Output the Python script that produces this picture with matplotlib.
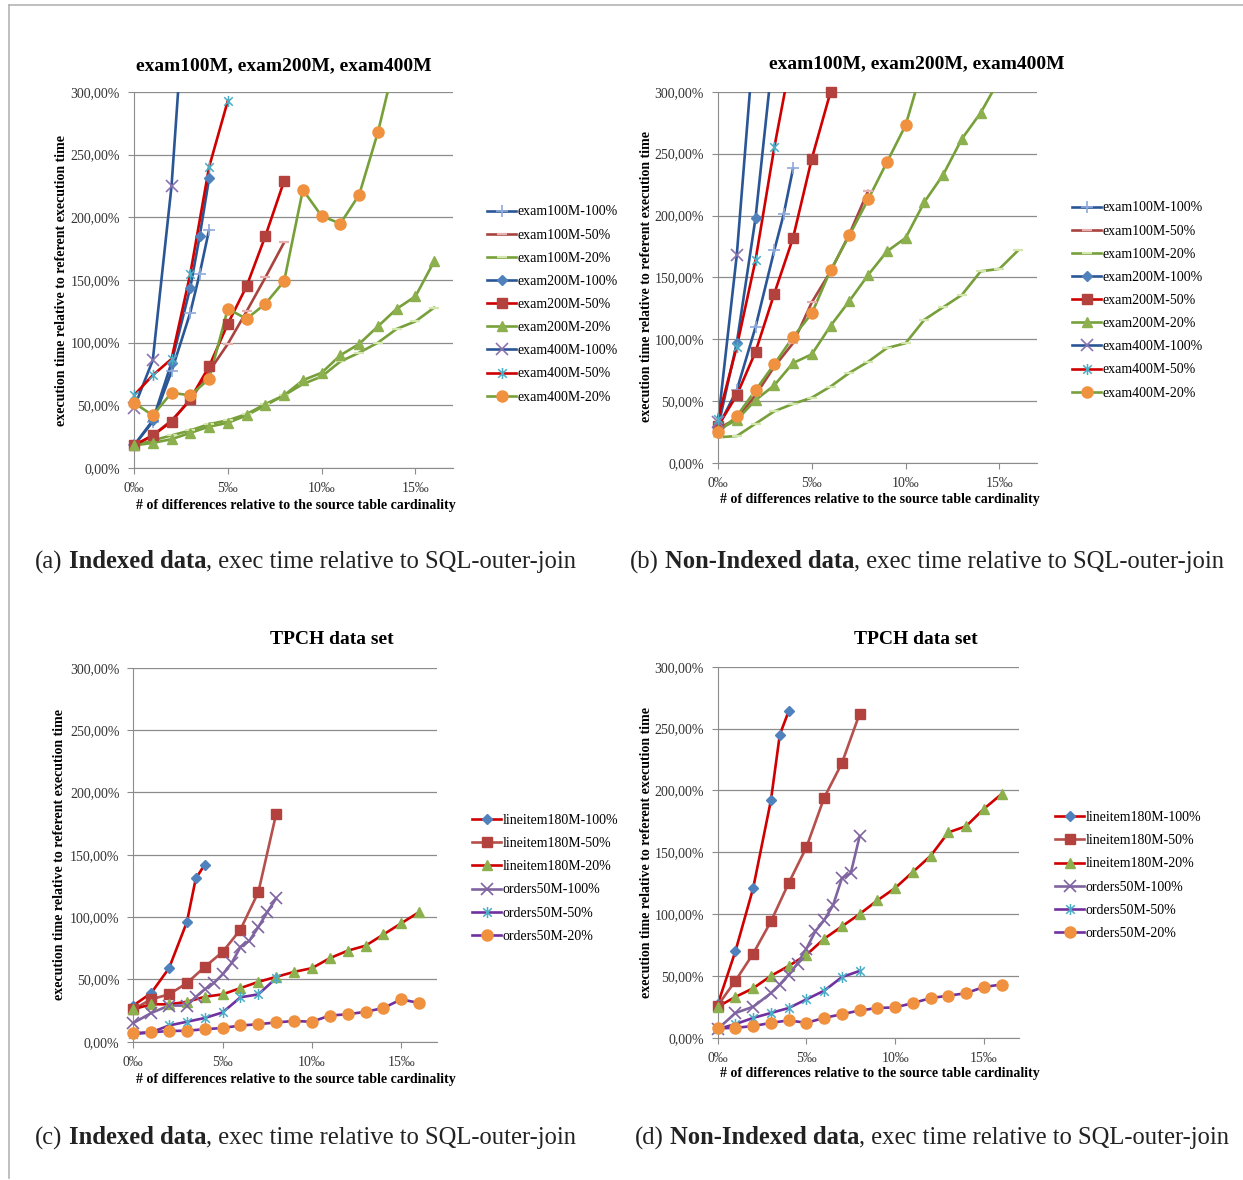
import numpy as np
import matplotlib
matplotlib.use('Agg')
import matplotlib.pyplot as plt
from matplotlib.path import Path
from matplotlib.lines import Line2D
from matplotlib.patches import Rectangle
from matplotlib.ticker import FuncFormatter, MultipleLocator, FixedLocator

plt.rcParams['font.family'] = ['Liberation Serif', 'DejaVu Serif']

W, H = 1243, 1180

# ---------------- data (x in per mille, y in % of referent time) ----------------
x_half = [0, 1, 2, 3, 3.5, 4]
x_8 = list(range(9))
x_16 = list(range(17))
x_o100 = [0, 1, 2, 3, 3.5, 4, 4.5, 5, 5.5, 6, 6.5, 7, 7.5, 8]

exam_labels = ['exam100M-100%', 'exam100M-50%', 'exam100M-20%',
               'exam200M-100%', 'exam200M-50%', 'exam200M-20%',
               'exam400M-100%', 'exam400M-50%', 'exam400M-20%']
tpch_labels = ['lineitem180M-100%', 'lineitem180M-50%', 'lineitem180M-20%',
               'orders50M-100%', 'orders50M-50%', 'orders50M-20%']

# (a) indexed, exam tables
a_e100_100 = [18, 37, 77, 124, 155, 190]
a_e100_50 = [18, 26, 38, 54, 77, 99, 125, 152, 180]
a_e100_20 = [18, 22, 26, 30, 35, 38, 43, 51, 58, 67, 73, 85, 92, 100, 111, 117, 128]
a_e200_100 = [18, 38, 84, 144, 185, 231]
a_e200_50 = [18, 26, 37, 55, 81, 115, 145, 185, 229]
a_e200_20 = [18, 20, 23, 28, 33, 36, 42, 50, 58, 70, 76, 90, 99, 113, 127, 137, 165]
a_e400_100 = [48, 86, 225, 440]
a_e400_50 = [58, 74, 87, 155, 240, 293]
a_e400_20 = [52, 42, 60, 58, 71, 127, 119, 131, 149, 222, 201, 195, 218, 268, 330]

# (b) non-indexed, exam tables
b_e100_100 = [29, 59, 110, 172, 201, 238]
b_e100_50 = [28, 36, 55, 78, 97, 130, 155, 185, 220]
b_e100_20 = [21, 22, 32, 42, 48, 53, 62, 73, 82, 93, 97, 116, 126, 136, 155, 157, 172]
b_e200_100 = [29, 97, 198, 340]
b_e200_50 = [30, 55, 90, 137, 182, 246, 300]
b_e200_20 = [27, 35, 51, 63, 81, 88, 111, 131, 152, 171, 182, 211, 233, 262, 283, 310]
b_e400_100 = [33, 168, 357]
b_e400_50 = [36, 94, 164, 255, 335]
b_e400_20 = [25, 38, 59, 80, 102, 121, 156, 184, 213, 243, 273, 325]

# (c) indexed, TPCH
c_l100 = [29, 39, 59, 96, 131, 142]
c_l50 = [26, 34, 38, 47, 60, 72, 90, 120, 183]
c_l20 = [26, 30, 30, 32, 36, 38, 43, 48, 52, 56, 59, 67, 73, 77, 86, 95, 104]
c_o100 = [15, 23, 29, 29, 36, 42, 47, 54, 63, 76, 81, 92, 104, 115]
c_o50 = [6, 7.5, 13, 16, 19, 23.5, 35.6, 38, 51]
c_o20 = [7, 7.5, 8.6, 8.8, 10, 11, 13, 14, 15.5, 16.6, 16, 21, 22, 24, 27, 34, 31]

# (d) non-indexed, TPCH
d_l100 = [27, 70, 121, 192, 245, 264]
d_l50 = [26, 46, 68, 94, 125, 154, 194, 222, 262]
d_l20 = [25, 33, 40, 50, 58, 67, 80, 90, 100, 111, 121, 134, 147, 166, 171, 185, 197]
d_o100 = [7, 20, 25, 36, 43, 51, 60, 72, 86, 95, 107, 129, 133, 163]
d_o50 = [7, 11, 16, 20, 24, 31, 38, 49, 54]
d_o20 = [7.5, 8, 9.4, 12, 14, 12, 16, 19, 22, 24, 24.5, 28, 32, 34, 36, 41, 43]

# ---------------- styles ----------------
star = Path([(-1, -1), (1, 1), (-1, 1), (1, -1), (0, -1.3), (0, 1.3)],
            [Path.MOVETO, Path.LINETO] * 3)

BLUE = '#2A5696'
RED = '#D00000'
BROWN = '#A8433F'
GREEN = '#77A03A'
LAV = '#7F64A0'
PURPLE = '#7030A0'

exam_styles = [
    dict(color=BLUE, marker='+', mec='#8EAADB', ms=8, mew=1.2),
    dict(color=BROWN, marker='_', mec='#E6B0AE', ms=7, mew=1.6),
    dict(color=GREEN, marker='_', mec='#D3E6AC', ms=7, mew=1.6),
    dict(color=BLUE, marker='D', mfc='#4F81BD', mec='#4F81BD', ms=5),
    dict(color=RED, marker='s', mfc='#B3413E', mec='#B3413E', ms=7.5),
    dict(color=GREEN, marker='^', mfc='#8DB04F', mec='#8DB04F', ms=7.5),
    dict(color=BLUE, marker='x', mec='#8C72B0', ms=8, mew=1.2),
    dict(color=RED, marker=star, mec='#4BACC6', ms=8, mew=1.1),
    dict(color=GREEN, marker='o', mfc='#F0913F', mec='#F0913F', ms=8),
]
tpch_styles = [
    dict(color=RED, marker='D', mfc='#4F81BD', mec='#4F81BD', ms=5),
    dict(color='#B5504D', marker='s', mfc='#B3413E', mec='#B3413E', ms=7.5),
    dict(color=RED, marker='^', mfc='#8DB04F', mec='#8DB04F', ms=7.5),
    dict(color=LAV, marker='x', mec='#8064A2', ms=8, mew=1.2),
    dict(color=PURPLE, marker=star, mec='#4BACC6', ms=8, mew=1.1),
    dict(color=PURPLE, marker='o', mfc='#F0913F', mec='#F0913F', ms=8),
]

panels = [
    dict(rect=(134, 92, 453, 468), title='exam100M, exam200M, exam400M',
         title_xy=(284, 66), ylab_xy=(62, 281), xlab_xy=(296, 505),
         leg_xy=(487, 304.5), labels=exam_labels, styles=exam_styles,
         xs=[x_half, x_8, x_16, x_half, x_8, x_16, x_8[:4], x_8[:6], x_16[:15]],
         ys=[a_e100_100, a_e100_50, a_e100_20, a_e200_100, a_e200_50, a_e200_20,
             a_e400_100, a_e400_50, a_e400_20]),
    dict(rect=(718, 91.7, 1037, 463.3), title='exam100M, exam200M, exam400M',
         title_xy=(917, 64), ylab_xy=(646, 277), xlab_xy=(880, 500),
         leg_xy=(1072, 300.5), labels=exam_labels, styles=exam_styles,
         xs=[x_half, x_8, x_16, x_8[:4], x_8[:7], x_16[:16], x_8[:3], x_8[:5], x_16[:12]],
         ys=[b_e100_100, b_e100_50, b_e100_20, b_e200_100, b_e200_50, b_e200_20,
             b_e400_100, b_e400_50, b_e400_20]),
    dict(rect=(133.3, 667.7, 437, 1041.7), title='TPCH data set',
         title_xy=(332, 639), ylab_xy=(60, 855), xlab_xy=(296, 1079),
         leg_xy=(472, 878.3), labels=tpch_labels, styles=tpch_styles,
         xs=[x_half, x_8, x_16, x_o100, x_8, x_16],
         ys=[c_l100, c_l50, c_l20, c_o100, c_o50, c_o20]),
    dict(rect=(717.7, 666.7, 1019.3, 1037.7), title='TPCH data set',
         title_xy=(916, 639), ylab_xy=(646, 852), xlab_xy=(880, 1074),
         leg_xy=(1055, 875.5), labels=tpch_labels, styles=tpch_styles,
         xs=[x_half, x_8, x_16, x_o100, x_8, x_16],
         ys=[d_l100, d_l50, d_l20, d_o100, d_o50, d_o20]),
]

captions = [
    (35, 562, '(a)', 'Indexed data', ', exec time relative to SQL-outer-join'),
    (630, 562, '(b)', 'Non-Indexed data', ', exec time relative to SQL-outer-join'),
    (35, 1138, '(c)', 'Indexed data', ', exec time relative to SQL-outer-join'),
    (635, 1138, '(d)', 'Non-Indexed data', ', exec time relative to SQL-outer-join'),
]

LW = 1.9
fig = plt.figure(figsize=(W / 100, H / 100), dpi=100)

# light frame around the figure
fig.add_artist(Line2D([9 / W, 9 / W], [1 - 1178 / H, 1 - 5 / H], color='#B4B4B4', lw=1.2))
fig.add_artist(Line2D([9 / W, 1], [1 - 5 / H, 1 - 5 / H], color='#B4B4B4', lw=1.2))

pct = FuncFormatter(lambda v, p: f'{v:.2f}'.replace('.', ',') + '%')
pml = FuncFormatter(lambda v, p: f'{int(v)}‰')

for pn in panels:
    l, t, r, b = pn['rect']
    ax = fig.add_axes([l / W, 1 - b / H, (r - l) / W, (b - t) / H])
    ax.set_xlim(0, 17)
    ax.set_ylim(0, 300)
    ax.yaxis.set_major_locator(MultipleLocator(50))
    ax.xaxis.set_major_locator(FixedLocator([0, 5, 10, 15]))
    ax.yaxis.set_major_formatter(pct)
    ax.xaxis.set_major_formatter(pml)
    ax.grid(axis='y', color='#8C8C8C', lw=0.9)
    ax.set_axisbelow(True)
    for s in ['top', 'right']:
        ax.spines[s].set_visible(False)
    for s in ['left', 'bottom']:
        ax.spines[s].set_color('#8C8C8C')
    ax.tick_params(colors='#8C8C8C', labelcolor='#333333', labelsize=10,
                   length=4, direction='out')
    ax.tick_params(axis='y', pad=6)
    ax.tick_params(axis='x', pad=6)

    clip = Rectangle((-0.05, -0.05), 1.1, 1.05, transform=ax.transAxes)
    handles = []
    for xv, yv, st in zip(pn['xs'], pn['ys'], pn['styles']):
        xv = np.asarray(xv, float)
        yv = np.asarray(yv, float)
        ln, = ax.plot(xv, yv, color=st['color'], lw=LW, solid_capstyle='round')
        ln.set_clip_path(clip)
        keep = yv <= 301
        mk = {k: v for k, v in st.items() if k != 'color'}
        ax.plot(xv[keep], yv[keep], ls='none', clip_on=False, zorder=3, **mk)
        handles.append(Line2D([], [], color=st['color'], lw=LW, **mk))

    fig.legend(handles, pn['labels'], loc='center left',
               bbox_to_anchor=(pn['leg_xy'][0] / W, 1 - pn['leg_xy'][1] / H),
               frameon=False, fontsize=10, handlelength=2.1, handletextpad=0.12,
               labelspacing=0.73, borderpad=0, borderaxespad=0, numpoints=1)

    fig.text(pn['title_xy'][0] / W, 1 - pn['title_xy'][1] / H, pn['title'],
             ha='center', va='center', fontsize=14, fontweight='bold')
    fig.text(pn['ylab_xy'][0] / W, 1 - pn['ylab_xy'][1] / H,
             'execution time relative to referent execution time',
             ha='center', va='center', rotation=90, fontsize=10, fontweight='bold')
    fig.text(pn['xlab_xy'][0] / W, 1 - pn['xlab_xy'][1] / H,
             '# of differences relative to the source table cardinality',
             ha='center', va='center', fontsize=10, fontweight='bold')

# captions with a bold part in the middle
renderer = fig.canvas.get_renderer()
CAP = 17.7
gap = 0.25 * CAP * 100 / 72
for cx, cy, tag, bold, rest in captions:
    t1 = fig.text(cx / W, 1 - cy / H, tag, fontsize=CAP, va='center', ha='left', color='#222222')
    x1 = t1.get_window_extent(renderer).x1 + gap
    t2 = fig.text(x1 / W, 1 - cy / H, bold, fontsize=CAP, fontweight='bold',
                  va='center', ha='left', color='#222222')
    x2 = t2.get_window_extent(renderer).x1
    fig.text(x2 / W, 1 - cy / H, rest, fontsize=CAP, va='center', ha='left', color='#222222')

fig.savefig('out.png', dpi=100)
